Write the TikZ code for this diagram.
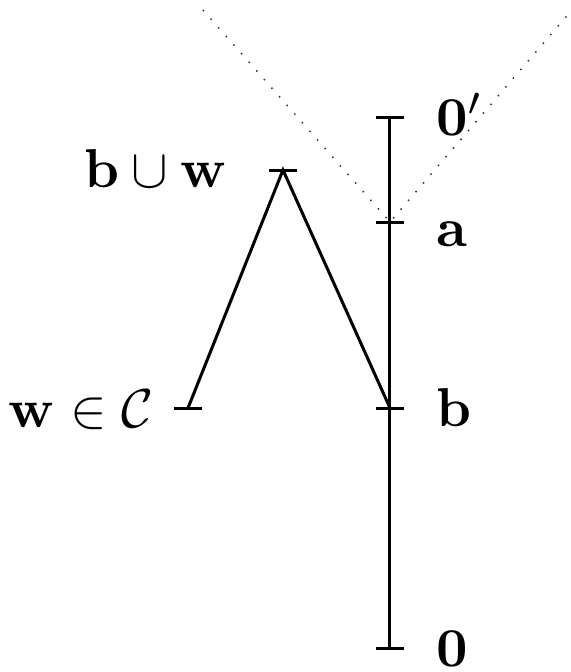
\documentclass[tikz,border=0pt]{standalone}
\usepackage{amsmath}
\begin{document}
\begin{tikzpicture}[x=0.2pt,y=-0.2pt,
  axis/.style={line width=0.6pt},
  tickmark/.style={line width=0.6pt},
  guide/.style={dotted, line width=0.3pt, black!80},
  lab/.style={inner sep=0pt, font=\fontsize{11}{13}\selectfont}]
\useasboundingbox (0,0) rectangle (571,672);
% coordinates
\coordinate (top) at (390,117);
\coordinate (a) at (390,222);
\coordinate (b) at (390,408);
\coordinate (zero) at (390,648);
\coordinate (w) at (188,408);
\coordinate (bw) at (283,170);
\coordinate (gl) at (203,10);
\coordinate (gr) at (571,11);
% dotted guides
\draw[guide] (gl) -- (a) -- (gr);
% axis
\draw[axis] (top) -- (zero);
\foreach \p in {top,a,b,zero,w,bw}
  \draw[tickmark] ([xshift=-14*0.2pt]\p) -- ([xshift=14*0.2pt]\p);
% lines
\draw[axis] (w) -- (bw) -- (b);
% labels
\node[lab, anchor=base west] (l0p) at (436,135) {$\mathbf{0}'$};
\node[lab, anchor=base west] (la) at (436,246) {$\mathbf{a}$};
\node[lab, anchor=base west] (lb) at (436,426) {$\mathbf{b}$};
\node[lab, anchor=base west] (l0) at (436,666) {$\mathbf{0}$};
\node[lab, anchor=base east] (lbw) at (228,187) {$\mathbf{b}\cup\mathbf{w}$};
\node[lab, anchor=base east] (lw) at (155,427) {$\mathbf{w}\in\mathcal{C}$};
\end{tikzpicture}
\end{document}
